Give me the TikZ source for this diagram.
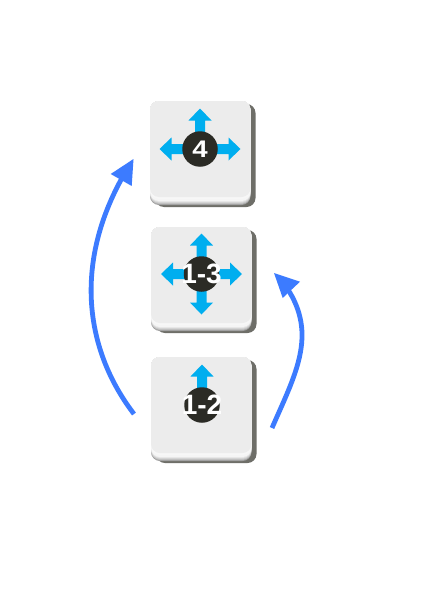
\documentclass[tikz,border=0pt]{standalone}
\usepackage{fontspec}
\setmainfont{Liberation Sans}
\definecolor{keyface}{HTML}{ECECEC}
\definecolor{keyshadow}{HTML}{6E6E68}
\definecolor{keydisc}{HTML}{2B2B25}
\definecolor{arrowcyan}{HTML}{00AEEF}
\definecolor{sweep}{HTML}{3C7BFF}
\tikzset{
  x=1pt,y=-1pt,
  sweepline/.style={draw=sweep,line width=4.8pt},
  sweephead/.style={fill=sweep,draw=none},
  disc/.style={circle,fill=keydisc,minimum size=35.5pt,inner sep=0pt},
  keylabel/.style={text=white,font=\bfseries\fontsize{28}{28}\selectfont,inner sep=0pt},
  dirarrow/.style={fill=arrowcyan,draw=none},
}
\newcommand{\keycap}[2]{% x-left, y-top
  \begin{scope}[shift={(#1,#2)}]
    \fill[keyshadow,rounded corners=9pt] (5,3) rectangle (105.5,106);
    \fill[gray!75,rounded corners=9pt] (0,0) rectangle (100.5,104);
    \fill[gray!50,rounded corners=9pt] (0,0) rectangle (100.5,103);
    \fill[gray!35,rounded corners=9pt] (0,0) rectangle (100.5,102);
    \fill[gray!20,rounded corners=9pt] (0,0) rectangle (100.5,101);
    \fill[gray!8,rounded corners=9pt] (0,0) rectangle (100.5,100);
    \fill[gray!6,rounded corners=9pt] (0,0) rectangle (100.5,98);
    \fill[keyface,rounded corners=9pt] (0,0) rectangle (100.5,96);
  \end{scope}}
\newcommand{\uparrowat}[3]{% centre x, centre y, rotation
  \fill[dirarrow,shift={(#1,#2)},rotate=#3] (-5,0) -- (-5,-28.5) -- (-11.5,-28.5) -- (0,-40.5) -- (11.5,-28.5) -- (5,-28.5) -- (5,0) -- cycle;}
\begin{document}
\begin{tikzpicture}
\useasboundingbox (0,0) rectangle (423,589);
\fill[white] (0,0) rectangle (423,589);
\keycap{150}{101}
\keycap{151}{227}
\keycap{151}{357}
\uparrowat{200}{149}{0}
\uparrowat{200}{149}{90}
\uparrowat{200}{149}{270}
\uparrowat{201.5}{274}{0}
\uparrowat{201.5}{274}{90}
\uparrowat{201.5}{274}{180}
\uparrowat{201.5}{274}{270}
\uparrowat{202}{405}{0}
\node[disc] (a) at (200,149) {};
\node[disc] (b) at (201.5,274) {};
\node[disc] (c) at (202,405) {};
\node[keylabel,font=\bfseries\fontsize{24}{24}\selectfont] at (a) {\scalebox{1.15}[1]{4}};
\node[keylabel] at (b) {1-3};
\node[keylabel] at (c) {1-2};
\coordinate (ls) at (134,414);
\coordinate (le) at (122,178);
\coordinate (lt) at (133.5,159);
\coordinate (rs) at (272,428);
\coordinate (re) at (287,288);
\coordinate (rt) at (274,273);
\draw[sweepline] (ls) .. controls (85,350) and (74,265) .. (le);
\fill[sweephead] (lt) -- (131.7,186) -- (110.7,174) -- cycle;
\draw[sweepline] (rs) .. controls (295,375) and (318,335) .. (re);
\fill[sweephead] (rt) -- (300,281.7) -- (282.7,298) -- cycle;
\end{tikzpicture}
\end{document}
